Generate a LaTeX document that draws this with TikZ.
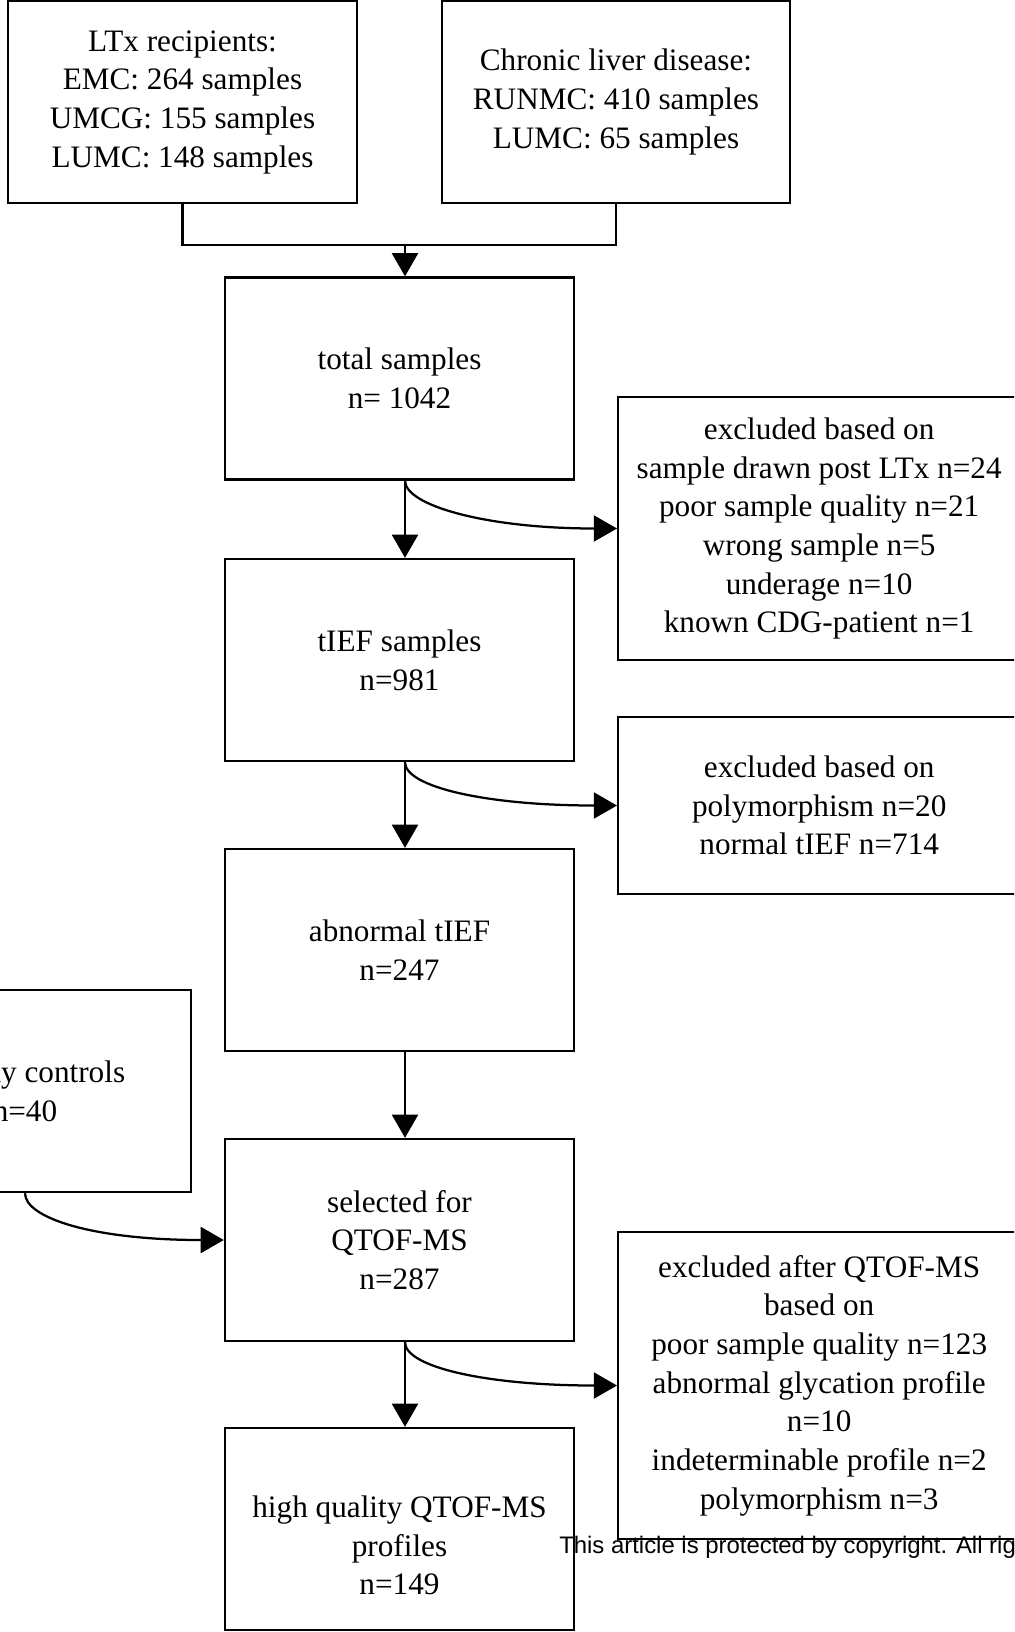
\documentclass[tikz,border=0pt]{standalone}
\usepackage{fontspec}
\setmainfont{Liberation Serif}
\newfontfamily\notefont{Liberation Sans}
\usetikzlibrary{arrows.meta}

\begin{document}
\begin{tikzpicture}[x=0.025cm,y=-0.025cm]
  \tikzset{box/.style = {shape=rectangle,draw,line width=1.6pt,align=center,inner sep=0pt,minimum width=8.725cm,minimum height=5.05cm,font=\fontsize{22.2}{27.5}\selectfont}}
  \tikzset{exbox/.style = {box,anchor=west,minimum width=10.05cm}}
  \tikzset{edge/.style = {line width=1.6pt,-{Triangle[length=0.58cm,width=0.65cm]}}}

  \useasboundingbox (0,0) rectangle (1014,1632);
  \clip (0,0) rectangle (1014,1632);

	\node[box] (LTx) at (182.5,102) {LTx recipients:\\EMC: 264 samples\\UMCG: 155 samples\\LUMC: 148 samples};
	\node[box,minimum width=8.7cm] (CLD) at (616,102) {Chronic liver disease:\\RUNMC: 410 samples\\LUMC: 65 samples};
	\coordinate (spine) at (405,245);

	\node[box] (TS) at (399.5,378.5) {total samples\\n= 1042};
	\node[box] (tIEF) at (399.5,660) {tIEF samples\\n=981};
	\node[box] (AB) at (399.5,950) {abnormal tIEF\\n=247};
	\node[box] (SEL) at (399.5,1240) {selected for\\QTOF-MS\\n=287};
	\node[box] (HQ) at (399.5,1529) {\mbox{}\\[0.4cm]high quality QTOF-MS\\profiles\\n=149};

	\node[box,minimum width=8.3cm] (HC) at (25,1091) {healthy controls\\n=40};

	\node[exbox,minimum height=6.575cm] (EX1) at (617,528.5) {excluded based on\\sample drawn post LTx n=24\\poor sample quality n=21\\wrong sample n=5\\underage n=10\\known CDG-patient n=1};
	\node[exbox,minimum height=4.425cm] (EX2) at (617,805.5) {excluded based on\\polymorphism n=20\\normal tIEF n=714};
	\node[exbox,minimum height=7.675cm] (EX3) at (617,1385.5) {excluded after QTOF-MS\\based on\\poor sample quality n=123\\abnormal glycation profile\\n=10\\indeterminable profile n=2\\polymorphism n=3};

	\draw[line width=1.6pt] (LTx.south) |- (spine) -| (CLD.south);
	\draw[edge] (spine) -- (spine |- TS.north);

       \foreach \from/\to in {TS/tIEF, tIEF/AB, AB/SEL, SEL/HQ}
    \draw[edge] (spine |- \from.south) -- (spine |- \to.north);

       \foreach \from/\to in {TS/EX1, tIEF/EX2, SEL/EX3}
    \draw[edge] (spine |- \from.south) .. controls +(0,25) and +(-130,0) .. (\to.west);
	\draw[edge] (HC.south) .. controls +(0,25) and +(-130,0) .. (SEL.west);

	\node[font=\notefont\fontsize{17}{20}\selectfont,anchor=base west,inner sep=0pt] (note) at (559,1553) {This article is protected by copyright. All rights reserved.};
\end{tikzpicture}
\end{document}
